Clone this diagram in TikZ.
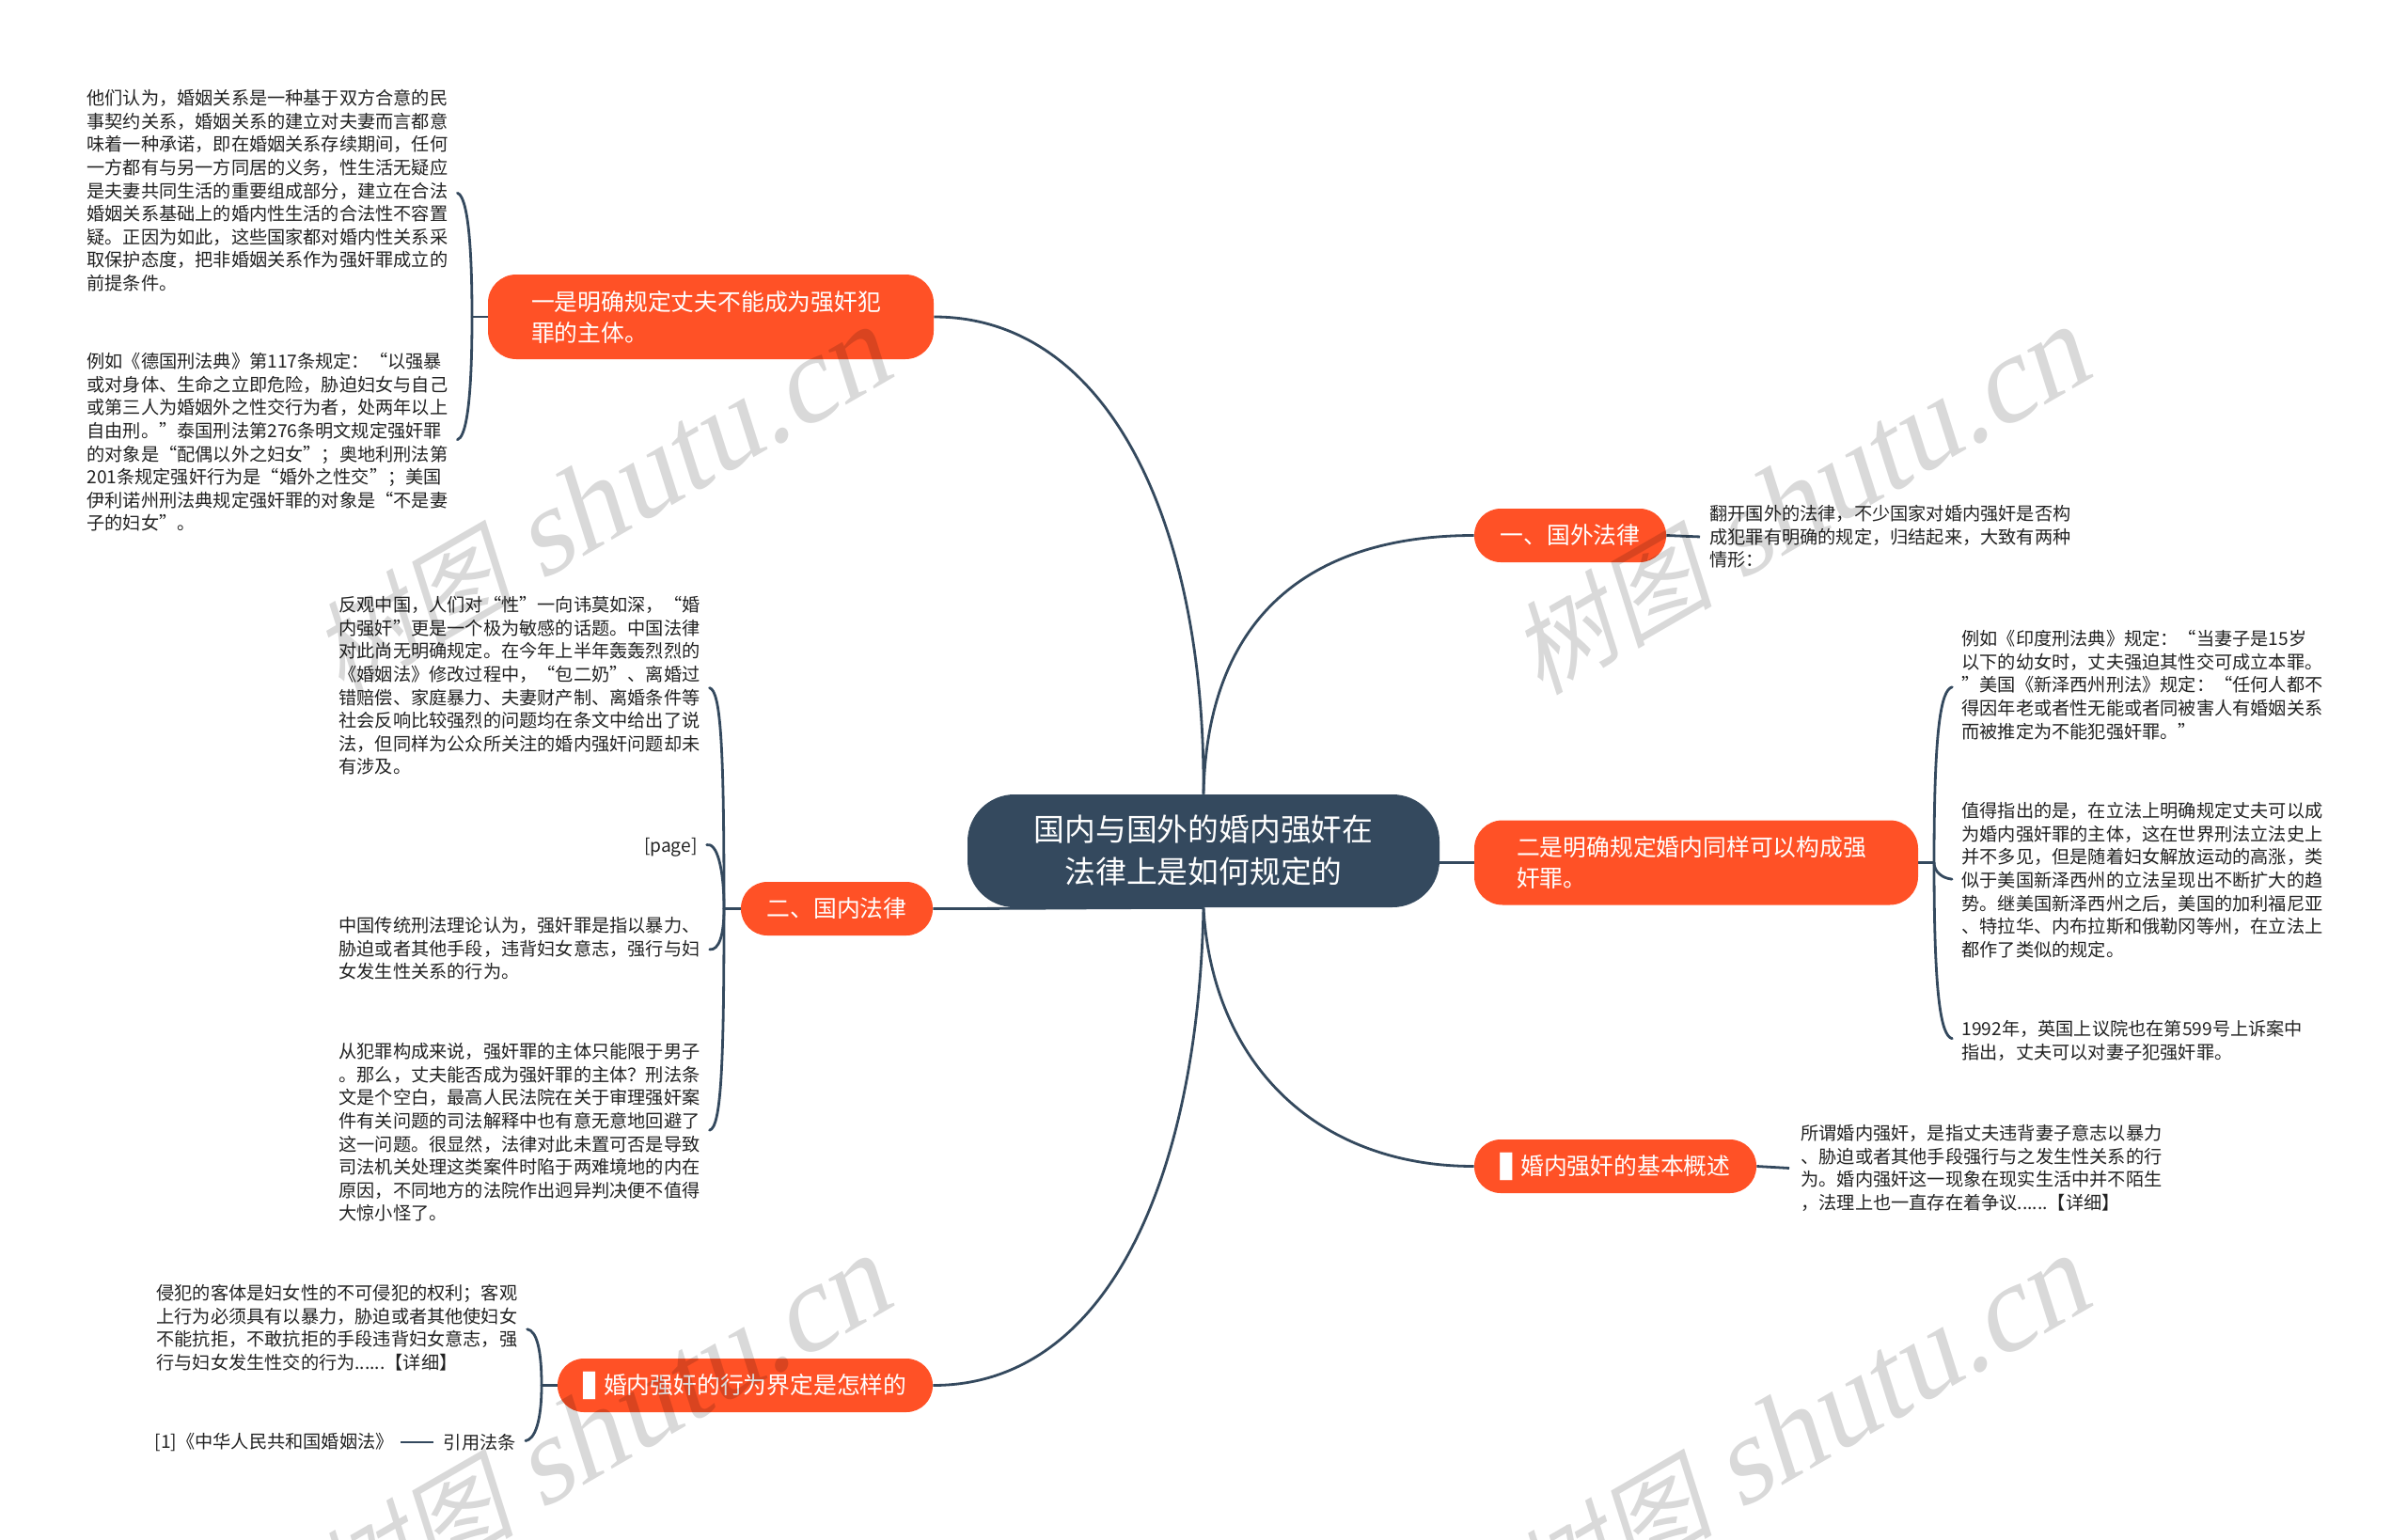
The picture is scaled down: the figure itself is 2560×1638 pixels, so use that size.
\documentclass[tikz,border=0pt]{standalone}
\usepackage{fontspec}
\usepackage{graphicx}
\setmainfont{Noto Sans CJK SC}
\newfontfamily\djv{DejaVu Sans}
\newfontfamily\wmlatin{Liberation Serif}
\usetikzlibrary{calc}
\pgfdeclarelayer{back}
\pgfsetlayers{back,main}
\definecolor{navy}{HTML}{34495E}
\definecolor{flame}{HTML}{FF5126}
\definecolor{leafink}{HTML}{222222}
\tikzset{
  root/.style={fill=navy,text=white,rounded corners=25pt,minimum width=251pt,minimum height=60pt,inner sep=0pt,align=center,font=\fontsize{16.4}{22.5}\selectfont},
  branch/.style={fill=flame,text=white,rounded corners=14pt,minimum height=28.5pt,inner sep=0pt,align=center,font=\fontsize{12.4}{16.5}\selectfont},
  wide/.style={branch,rounded corners=15pt,align=left,text width=191pt,minimum height=45pt},
  leaf/.style={anchor=north west,inner sep=0pt,align=left,text=leafink,font=\fontsize{9.6}{12.3}\selectfont},
  tip/.style={anchor=east,inner sep=0pt,text=leafink,font=\fontsize{9.6}{12.3}\selectfont},
  conn/.style={draw=navy,line width=1.4pt},
  brk/.style={conn,shorten >=5pt,line cap=round},
  wm/.style={inner sep=0pt,rotate=30,xslant=0.22,text=black,text opacity=0.15},
}
\newcommand{\wmtext}{{\fontsize{54}{60}\selectfont 树图}\hspace{14pt}{\wmlatin\fontsize{65}{70}\selectfont shutu.cn}}
\newcommand{\barmark}{{\djv\scalebox{1.35}[1]{▌}}\hspace{-2pt}}
\begin{document}
\begin{tikzpicture}[x=0.5pt,y=-0.5pt]
\useasboundingbox (0,0) rectangle (2560,1638);
\clip (0,0) rectangle (2560,1638);

% main nodes
\node[root] (cen) at (1280,905) {国内与国外的婚内强奸在\\法律上是如何规定的};
\node[wide,minimum width=237pt] (n1) at (756,337) {一是明确规定丈夫不能成为强奸犯\\罪的主体。};
\node[branch,minimum width=102pt] (n2) at (890,966.5) {二、国内法律};
\node[branch,minimum width=199.5pt] (n3) at (792.5,1473.5) {\barmark 婚内强奸的行为界定是怎样的};
\node[branch,minimum width=102pt] (n5) at (1670,569.5) {一、国外法律};
\node[wide,minimum width=236pt] (n6) at (1804,917.5) {二是明确规定婚内同样可以构成强\\奸罪。};
\node[branch,minimum width=150pt] (n7) at (1718,1240.5) {\barmark 婚内强奸的基本概述};

% leaves
\node[leaf] (l1) at (92,95) {他们认为，婚姻关系是一种基于双方合意的民\\事契约关系，婚姻关系的建立对夫妻而言都意\\味着一种承诺，即在婚姻关系存续期间，任何\\一方都有与另一方同居的义务，性生活无疑应\\是夫妻共同生活的重要组成部分，建立在合法\\婚姻关系基础上的婚内性生活的合法性不容置\\疑。正因为如此，这些国家都对婚内性关系采\\取保护态度，把非婚姻关系作为强奸罪成立的\\前提条件。};
\node[leaf] (l2) at (92,375) {例如《德国刑法典》第117条规定：“以强暴\\或对身体、生命之立即危险，胁迫妇女与自己\\或第三人为婚姻外之性交行为者，处两年以上\\自由刑。”泰国刑法第276条明文规定强奸罪\\的对象是“配偶以外之妇女”；奥地利刑法第\\201条规定强奸行为是“婚外之性交”；美国\\伊利诺州刑法典规定强奸罪的对象是“不是妻\\子的妇女”。};
\node[leaf] (m1) at (360,634) {反观中国，人们对“性”一向讳莫如深，“婚\\内强奸”更是一个极为敏感的话题。中国法律\\对此尚无明确规定。在今年上半年轰轰烈烈的\\《婚姻法》修改过程中，“包二奶”、离婚过\\错赔偿、家庭暴力、夫妻财产制、离婚条件等\\社会反响比较强烈的问题均在条文中给出了说\\法，但同样为公众所关注的婚内强奸问题却未\\有涉及。};
\node[tip] (m2) at (742,901) {[page]};
\node[leaf] (m3) at (360,975) {中国传统刑法理论认为，强奸罪是指以暴力、\\胁迫或者其他手段，违背妇女意志，强行与妇\\女发生性关系的行为。};
\node[leaf] (m4) at (360,1109) {从犯罪构成来说，强奸罪的主体只能限于男子\\。那么，丈夫能否成为强奸罪的主体？刑法条\\文是个空白，最高人民法院在关于审理强奸案\\件有关问题的司法解释中也有意无意地回避了\\这一问题。很显然，法律对此未置可否是导致\\司法机关处理这类案件时陷于两难境地的内在\\原因，不同地方的法院作出迥异判决便不值得\\大惊小怪了。};
\node[leaf] (b1) at (166,1366) {侵犯的客体是妇女性的不可侵犯的权利；客观\\上行为必须具有以暴力，胁迫或者其他使妇女\\不能抗拒，不敢抗拒的手段违背妇女意志，强\\行与妇女发生性交的行为......【详细】};
\node[tip] (b2) at (549,1534) {引用法条};
\node[tip] (b3) at (419,1534) {[1]《中华人民共和国婚姻法》};
\node[leaf] (r1) at (1818,537) {翻开国外的法律，不少国家对婚内强奸是否构\\成犯罪有明确的规定，归结起来，大致有两种\\情形：};
\node[leaf] (r2) at (2086,670) {例如《印度刑法典》规定：“当妻子是15岁\\以下的幼女时，丈夫强迫其性交可成立本罪。\\”美国《新泽西州刑法》规定：“任何人都不\\得因年老或者性无能或者同被害人有婚姻关系\\而被推定为不能犯强奸罪。”};
\node[leaf] (r3) at (2086,853) {值得指出的是，在立法上明确规定丈夫可以成\\为婚内强奸罪的主体，这在世界刑法立法史上\\并不多见，但是随着妇女解放运动的高涨，类\\似于美国新泽西州的立法呈现出不断扩大的趋\\势。继美国新泽西州之后，美国的加利福尼亚\\、特拉华、内布拉斯和俄勒冈等州，在立法上\\都作了类似的规定。};
\node[leaf] (r4) at (2086,1085) {1992年，英国上议院也在第599号上诉案中\\指出，丈夫可以对妻子犯强奸罪。};
\node[leaf] (r5) at (1915,1196) {所谓婚内强奸，是指丈夫违背妻子意志以暴力\\、胁迫或者其他手段强行与之发生性关系的行\\为。婚内强奸这一现象在现实生活中并不陌生\\，法理上也一直存在着争议......【详细】};

% hubs of the brackets
\coordinate (h1) at (502,337);
\coordinate (h2) at (770,966.5);
\coordinate (h3) at (576,1473.5);
\coordinate (h6) at (2057,917.5);

\begin{pgfonlayer}{back}
% trunk connectors
\draw[conn] (n1.east) .. controls +(187,0) and +(2,-285) .. (cen.north);
\draw[conn] (n5.west) .. controls +(-168,0) and +(4,-195) .. (cen.north);
\draw[conn] (cen.east |- n6.west) -- (n6.west);
\draw[conn] (n2.east) .. controls +(100,0) and +(-100,0) .. (cen.south);
\draw[conn] (n3.east) .. controls +(187,0) and +(-6,285) .. (cen.south);
\draw[conn] (n7.west) .. controls +(-168,0) and +(9,165) .. (cen.south);
% brackets
\draw[conn] (n1.west) -- (h1);
\draw[brk] (h1) .. controls +(0,-97) and +(18,5) .. (l1.east);
\draw[brk] (h1) .. controls +(0,97) and +(18,-5) .. (l2.east);
\draw[conn] (n2.west) -- (h2);
\draw[brk] (h2) .. controls +(0,-170) and +(22,5) .. (m1.east);
\draw[brk] (h2) .. controls +(0,-45) and +(20,-5) .. (m2.east);
\draw[brk] (h2) .. controls +(0,28) and +(20,2) .. (m3.east);
\draw[brk] (h2) .. controls +(0,170) and +(22,-5) .. (m4.east);
\draw[conn] (n3.west) -- (h3);
\draw[brk] (h3) .. controls +(0,-38) and +(20,3) .. (b1.east);
\draw[brk] (h3) .. controls +(0,38) and +(20,-3) .. (b2.east);
\draw[conn] (b2.west) ++(-10,0) -- ($(b3.east)+(7,0)$);
\draw[conn] (n6.east) -- (h6);
\draw[brk] (h6) .. controls +(0,-140) and +(-22,5) .. (r2.west);
\draw[brk] (h6) .. controls +(0,10) and +(-20,-2) .. (r3.west);
\draw[brk] (h6) .. controls +(0,140) and +(-22,-5) .. (r4.west);
\draw[conn] (n5.east) -- ($(r1.west)+(-10,0)$);
\draw[conn] (n7.east) -- ($(r5.west)+(-12,0)$);
\end{pgfonlayer}

% watermarks
\node[wm] (w1) at (646,530) {\wmtext};
\node[wm] (w2) at (1921,530) {\wmtext};
\node[wm] (w3) at (646,1518) {\wmtext};
\node[wm] (w4) at (1921,1518) {\wmtext};
\end{tikzpicture}
\end{document}
